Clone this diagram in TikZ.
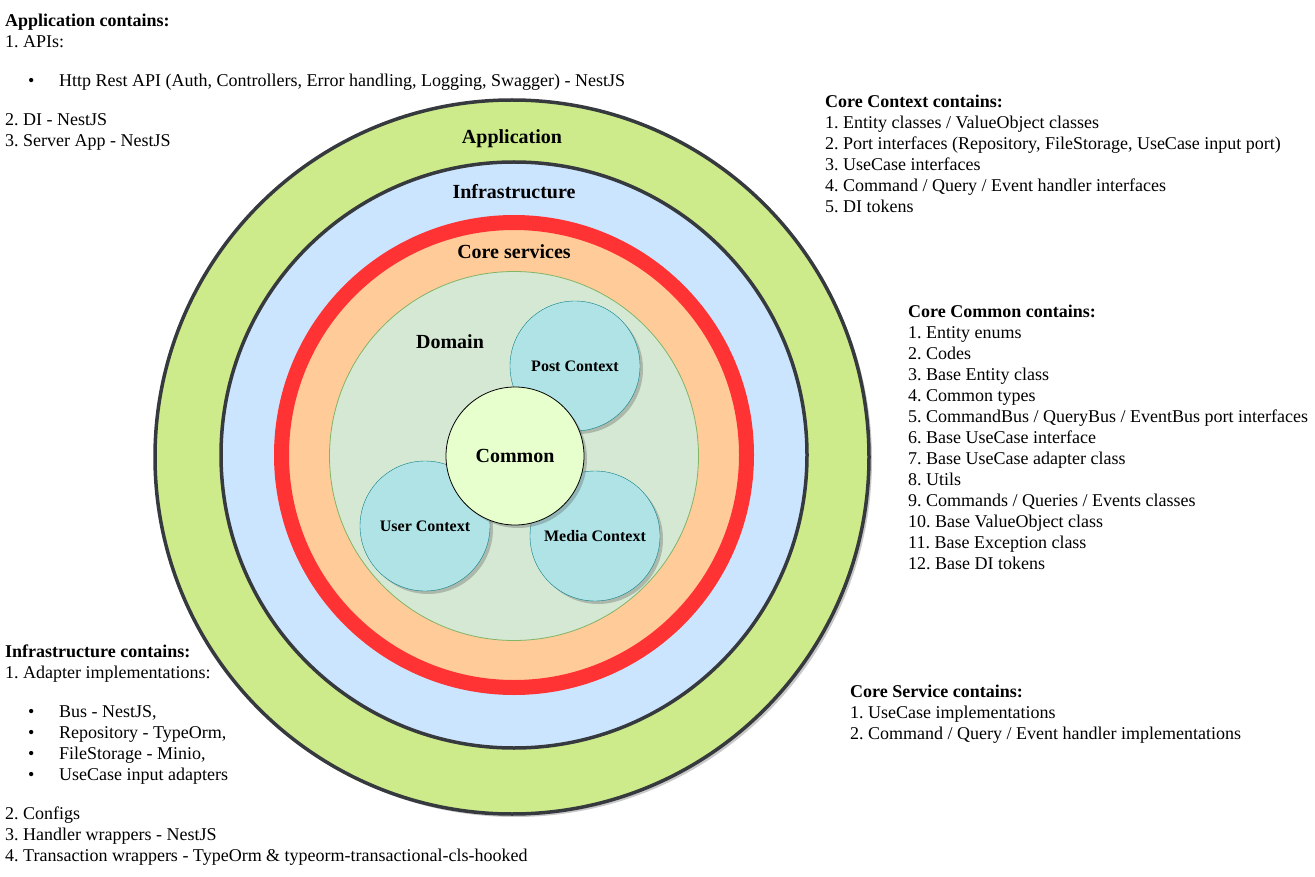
\documentclass[tikz,border=0pt]{standalone}
\usepackage{fontspec}
\setmainfont{Liberation Serif}
\usetikzlibrary{shadows}
\frenchspacing

\definecolor{appgreen}{HTML}{CDEB8B}
\definecolor{infrablue}{HTML}{CCE5FF}
\definecolor{corered}{HTML}{FF3333}
\definecolor{coreorange}{HTML}{FFCC99}
\definecolor{domfill}{HTML}{D5E8D4}
\definecolor{domline}{HTML}{82B366}
\definecolor{ctxfill}{HTML}{B0E3E6}
\definecolor{ctxline}{HTML}{0E8088}
\definecolor{comfill}{HTML}{E6FFCC}
\definecolor{ringline}{HTML}{36393D}

\tikzset{
  shade/.style={drop shadow={shadow xshift=3pt, shadow yshift=-3pt, opacity=0.3, fill=black!70}},
  layer/.style={circle, draw=ringline, line width=3.5pt, inner sep=0pt},
  ctx/.style={circle, draw=ctxline, fill=ctxfill, minimum size=130pt, inner sep=0pt, shade,
    font=\fontsize{16}{19}\selectfont\bfseries},
  title/.style={font=\fontsize{20}{24}\selectfont\bfseries, inner sep=0pt},
  notes/.style={anchor=north west, align=left, inner sep=0pt, font=\fontsize{18}{21}\selectfont},
}
\newcommand{\bul}{\makebox[54pt][l]{\hspace{23pt}\textbullet}}

\begin{document}
\begin{tikzpicture}[x=1pt,y=-1pt]
\useasboundingbox (0,0) rectangle (1315,877);

% rings
\node[layer, fill=appgreen, minimum size=714pt, shade] (app) at (512,457) {};
\node[layer, fill=infrablue, minimum size=586pt] (infra) at (514,455) {};
\node[circle, draw=corered, fill=coreorange, line width=15pt, minimum size=465pt] (core) at (514,455) {};
\node[circle, draw=domline, fill=domfill, thick, minimum size=369pt] (domain) at (514,456) {};

% contexts
\node[ctx] (post) at (575,366) {Post Context};
\node[ctx] (user) at (425,526) {User Context};
\node[ctx] (media) at (595,536) {Media Context};
\node[circle, draw=black, fill=comfill, thick, minimum size=138pt, shade, title] (common) at (515,456) {Common};

% ring titles
\node[title] (apptitle) at (512,138.5) {Application};
\node[title] (infratitle) at (514,192) {Infrastructure};
\node[title] (coretitle) at (514,252) {Core services};
\node[title] (domtitle) at (450,342) {Domain};

% descriptions
\node[notes] (appnotes) at (5,14) {\textbf{Application contains:}\\
1. APIs:\\[18pt]
\bul Http Rest API (Auth, Controllers, Error handling, Logging, Swagger) - NestJS\\[18pt]
2. DI - NestJS\\
3. Server App - NestJS};

\node[notes] (ctxnotes) at (825,95) {\textbf{Core Context contains:}\\
1. Entity classes / ValueObject classes\\
2. Port interfaces (Repository, FileStorage, UseCase input port)\\
3. UseCase interfaces\\
4. Command / Query / Event handler interfaces\\
5. DI tokens};

\node[notes] (comnotes) at (908,305) {\textbf{Core Common contains:}\\
1. Entity enums\\
2. Codes\\
3. Base Entity class\\
4. Common types\\
5. CommandBus / QueryBus / EventBus port interfaces\\
6. Base UseCase interface\\
7. Base UseCase adapter class\\
8. Utils\\
9. Commands / Queries / Events classes\\
10. Base ValueObject class\\
11. Base Exception class\\
12. Base DI tokens};

\node[notes] (infranotes) at (5,645) {\textbf{Infrastructure contains:}\\
1. Adapter implementations:\\[18pt]
\bul Bus - NestJS,\\
\bul Repository - TypeOrm,\\
\bul FileStorage - Minio,\\
\bul UseCase input adapters\\[18pt]
2. Configs\\
3. Handler wrappers - NestJS\\
4. Transaction wrappers - TypeOrm \& typeorm-transactional-cls-hooked};

\node[notes] (svcnotes) at (850,685) {\textbf{Core Service contains:}\\
1. UseCase implementations\\
2. Command / Query / Event handler implementations};
\end{tikzpicture}
\end{document}
